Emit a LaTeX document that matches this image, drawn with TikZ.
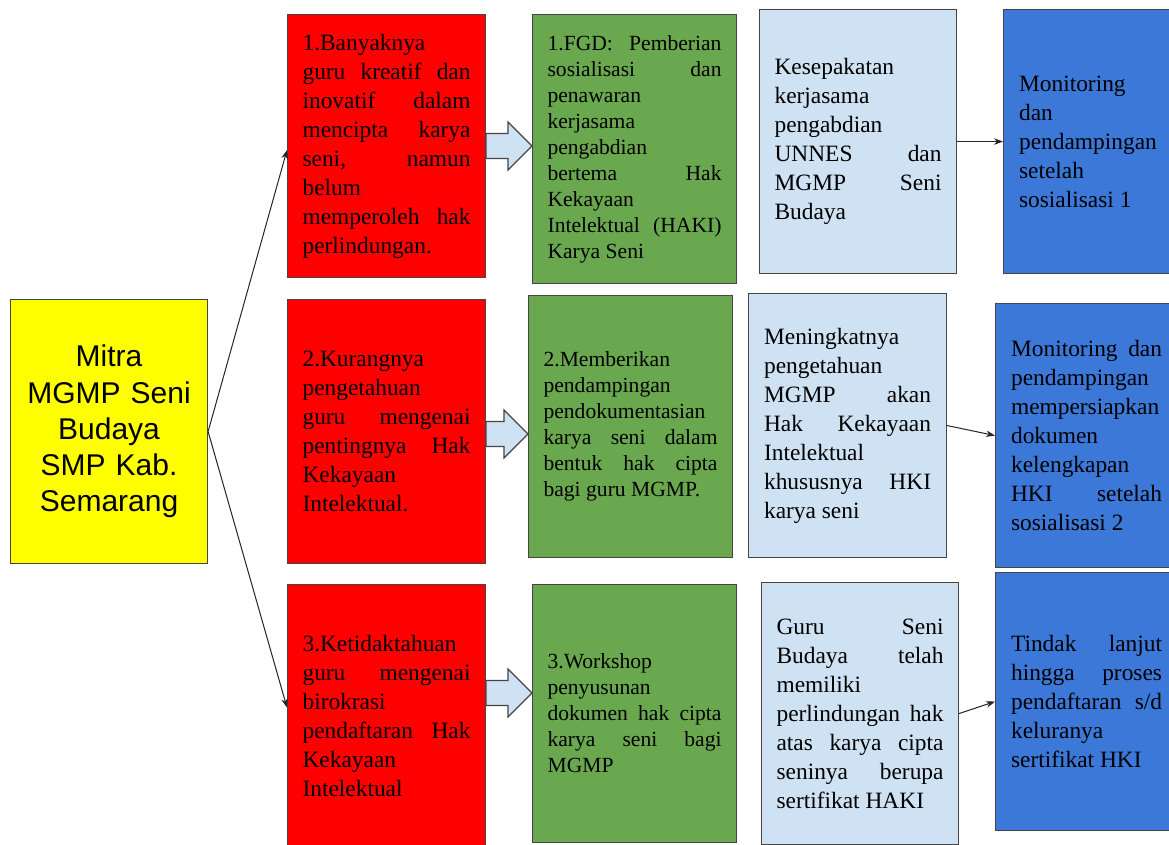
\documentclass[tikz,border=0pt]{standalone}
\usepackage{fontspec}
\setmainfont{Liberation Serif}
\newfontfamily\arialfont{Liberation Sans}
\usetikzlibrary{arrows.meta,calc}
\definecolor{cred}{HTML}{FF0000}
\definecolor{cgreen}{HTML}{6AA84F}
\definecolor{clight}{HTML}{CFE2F3}
\definecolor{cblue}{HTML}{3C78D8}
\definecolor{cyel}{HTML}{FFFF00}
\definecolor{cedge}{HTML}{454545}
\tolerance=10000 \hbadness=10000 \hyphenpenalty=10000 \exhyphenpenalty=10000
\newcommand\blockarrow[3]{%
  \coordinate (ty) at (0,#3);
  \coordinate (tip) at (#2.west |- ty);
  \coordinate (base) at (#1.east |- ty);
  \draw[barrow] (tip) -- ++(-24,-24) -- ++(0,11.5) -- ($(base)+(0,-12.5)$) -- ($(base)+(0,12.5)$) -- ($(tip)+(-24,12.5)$) -- ++(0,11.5) -- cycle;}
\begin{document}
\begin{tikzpicture}[x=1pt,y=-1pt,
  box/.style={draw=cedge, line width=1.1pt, rectangle, anchor=north west, inner sep=0pt, align=justify},
  bigtxt/.style={font=\fontsize{23.4}{29}\selectfont},
  grtxt/.style={font=\fontsize{21.6}{26}\selectfont},
  redbox/.style={box, bigtxt, fill=cred, minimum width=198, text width=168},
  grbox/.style={box, grtxt, fill=cgreen, minimum width=204, text width=174},
  ltbox/.style={box, bigtxt, fill=clight, minimum width=197, text width=167},
  blbox/.style={box, bigtxt, fill=cblue, minimum width=182, text width=151},
  yelbox/.style={box, fill=cyel, align=center, text width=190, minimum width=197,
    font=\arialfont\fontsize{30}{36.3}\selectfont},
  barrow/.style={draw=cedge, line width=1.1pt, fill=clight, line join=miter},
  conn/.style={draw=black!85, line width=1pt, -{Stealth[length=9pt,width=6.5pt]}}
]
\path[use as bounding box] (0,0) rectangle (1169,844);
\clip (0,0) rectangle (1169,844);
\fill[white] (0,0) rectangle (1169,844);

\node[yelbox, minimum height=264] (yel) at (10,299) {Mitra\\MGMP Seni\\Budaya\\SMP Kab.\\Semarang};

\node[redbox, minimum height=263] (r1) at (287,14) {1.Banyaknya\linebreak guru kreatif dan\linebreak inovatif dalam\linebreak mencipta karya\linebreak seni, namun\linebreak belum\linebreak memperoleh hak\linebreak perlindungan.};
\node[redbox, minimum height=264] (r2) at (287,299) {2.Kurangnya\linebreak pengetahuan\linebreak guru mengenai\linebreak pentingnya Hak\linebreak Kekayaan\linebreak Intelektual.};
\node[redbox, minimum height=262] (r3) at (287,584) {3.Ketidaktahuan\linebreak guru mengenai\linebreak birokrasi\linebreak pendaftaran Hak\linebreak Kekayaan\linebreak Intelektual};

\node[grbox, minimum height=269] (g1) at (532,14) {1.FGD: Pemberian\linebreak sosialisasi dan\linebreak penawaran\linebreak kerjasama\linebreak pengabdian\linebreak bertema Hak\linebreak Kekayaan\linebreak Intelektual (HAKI)\linebreak Karya Seni};
\node[grbox, minimum height=262] (g2) at (528,295) {2.Memberikan\linebreak pendampingan\linebreak pendokumentasian\linebreak karya seni dalam\linebreak bentuk hak cipta\linebreak bagi guru MGMP.};
\node[grbox, minimum height=258] (g3) at (532,584) {3.Workshop\linebreak penyusunan\linebreak dokumen hak cipta\linebreak karya seni bagi\linebreak MGMP};

\node[ltbox, minimum height=264] (l1) at (759,9) {Kesepakatan\linebreak kerjasama\linebreak pengabdian\linebreak UNNES dan\linebreak MGMP Seni\linebreak Budaya};
\node[ltbox, minimum width=198, minimum height=264] (l2) at (748,293) {Meningkatnya\linebreak pengetahuan\linebreak MGMP akan\linebreak Hak Kekayaan\linebreak Intelektual\linebreak khususnya HKI\linebreak karya seni};
\node[ltbox, minimum height=262] (l3) at (761,582) {Guru Seni\linebreak Budaya telah\linebreak memiliki\linebreak perlindungan hak\linebreak atas karya cipta\linebreak seninya berupa\linebreak sertifikat HAKI};

\node[blbox, minimum height=264] (b1) at (1003,9) {Monitoring\linebreak dan\linebreak pendampingan\linebreak setelah\linebreak sosialisasi 1};
\node[blbox, minimum height=264] (b2) at (995,303) {Monitoring dan\linebreak pendampingan\linebreak mempersiapkan\linebreak dokumen\linebreak kelengkapan\linebreak HKI setelah\linebreak sosialisasi 2};
\node[blbox, minimum height=258] (b3) at (995,572) {Tindak lanjut\linebreak hingga proses\linebreak pendaftaran s/d\linebreak keluranya\linebreak sertifikat HKI};

\blockarrow{r1}{g1}{146}
\blockarrow{r2}{g2}{434}
\blockarrow{r3}{g3}{693}

\draw[conn] (yel.east) -- ([yshift=-4pt]r1.west);
\draw[conn] (yel.east) -- ([yshift=8pt]r3.west);
\draw[conn] (l1.east) -- (b1.west);
\draw[conn] (l2.east) -- (b2.west);
\draw[conn] (l3.east) -- (b3.west);
\end{tikzpicture}
\end{document}
